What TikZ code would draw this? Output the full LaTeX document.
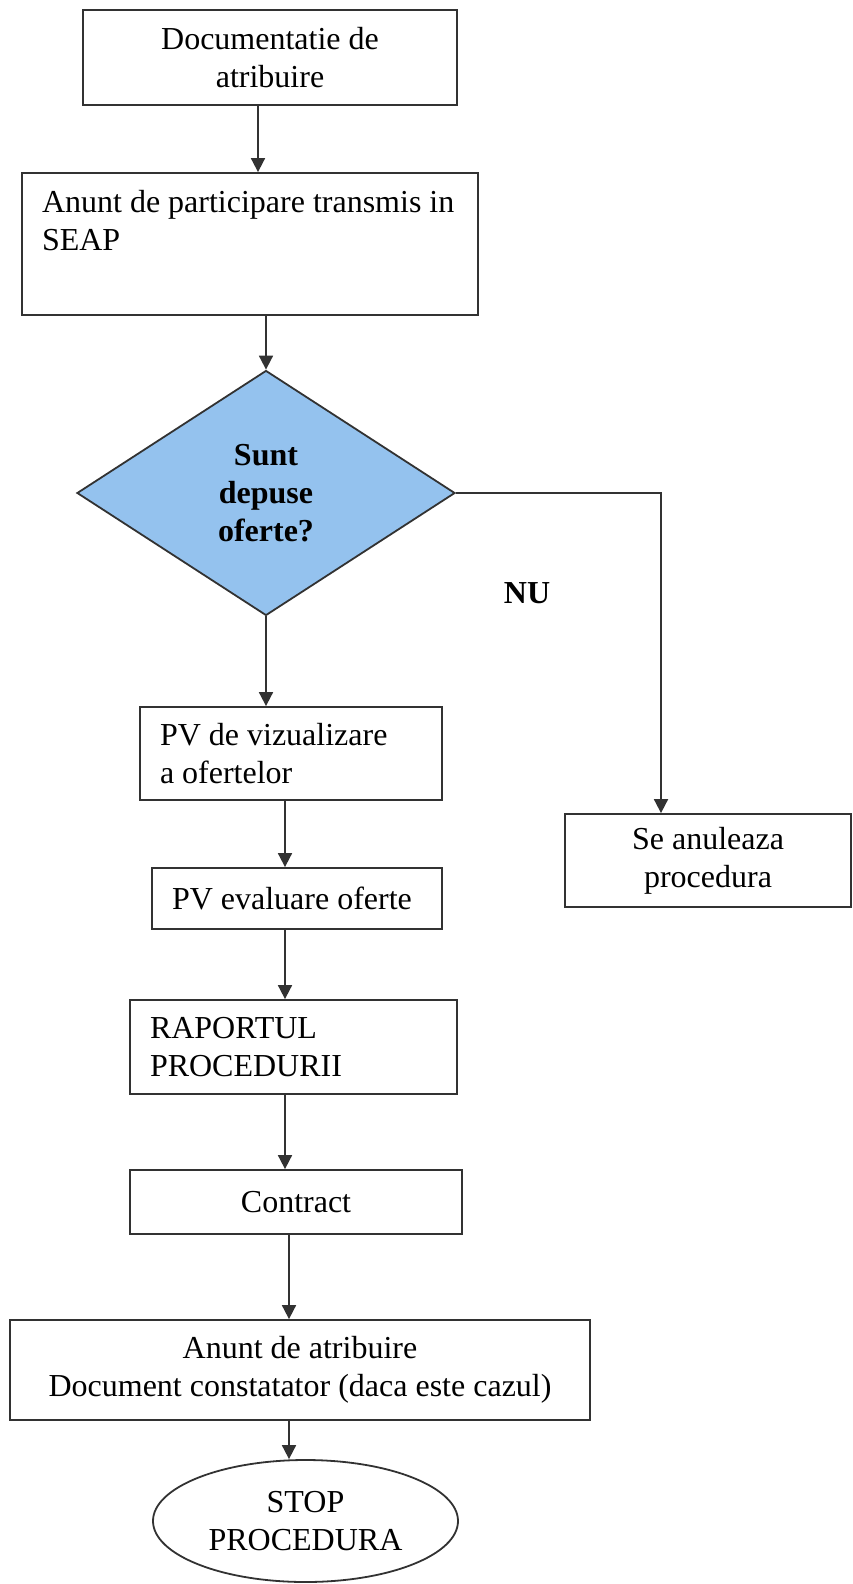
\documentclass[tikz,border=0pt]{standalone}
\usepackage{fontspec}
\setmainfont{Liberation Serif}
\usetikzlibrary{shapes.geometric, arrows.meta}
\definecolor{decizie}{RGB}{148,194,238}
\definecolor{linie}{RGB}{50,50,50}

\begin{document}
\begin{tikzpicture}[x=1pt, y=-1pt,
    every node/.style={font=\fontsize{32}{38}\selectfont},
    cutie/.style={draw=linie, line width=1.8pt, rectangle, inner sep=0pt},
    centrat/.style={cutie, align=center},
    stanga/.style={cutie, align=flush left, inner xsep=20pt},
    sageata/.style={draw=linie, line width=1.8pt, -{Triangle[width=14pt,length=14pt]}}]
  \useasboundingbox (0,0) rectangle (852,1584);
  % === PARTEA DE SUS: documentatie si anunt ===
  \node[centrat, minimum width=374pt, minimum height=95pt] (doc) at (270,57.5)
    {Documentatie de\\atribuire};
  \node[cutie, minimum width=456pt, minimum height=142pt] (anunt) at (250,244)
    {\parbox[c][142pt][t]{416pt}{\vspace{17pt}Anunt de participare transmis in\\SEAP}};
  % === DECIZIA: sunt depuse oferte? ===
  \node[diamond, draw=linie, fill=decizie, line width=1.8pt, inner sep=0pt,
    minimum width=378pt, minimum height=245pt, align=center,
    font=\fontsize{32}{38}\selectfont\bfseries] (dec) at (266,493)
    {Sunt\\depuse\\oferte?};
  \node[font=\fontsize{32}{38}\selectfont\bfseries] (nu) at (527,593) {NU};
  % ramura NU
  \node[centrat, minimum width=286pt, minimum height=93pt] (anulare) at (708,860.5)
    {Se anuleaza\\procedura};
  % === RAMURA DA: pasii procedurii ===
  \node[stanga, text width=262pt, minimum height=93pt] (pvviz) at (291,753.5)
    {PV de vizualizare\\a ofertelor};
  \node[stanga, text width=250pt, minimum height=61pt] (pveval) at (297,898.5)
    {PV evaluare oferte};
  \node[stanga, text width=287pt, minimum height=94pt] (raport) at (293.5,1047)
    {RAPORTUL\\PROCEDURII};
  \node[centrat, minimum width=332pt, minimum height=64pt] (contract) at (296,1202)
    {Contract};
  \node[centrat, minimum width=580pt, minimum height=100pt] (atrib) at (300,1370)
    {Anunt de atribuire\\Document constatator (daca este cazul)};
  \node[ellipse, draw=linie, line width=1.8pt, inner sep=0pt, align=center,
    minimum width=305pt, minimum height=122pt] (stop) at (305.5,1521)
    {STOP\\PROCEDURA};
  % === SAGETI ===
  \coordinate (xa) at (258,0);
  \coordinate (xnu) at (661,0);
  \coordinate (xb) at (285,0);
  \coordinate (xc) at (289,0);
  \draw[sageata] (doc.south -| xa) -- (anunt.north -| xa);
  \draw[sageata] (anunt.south -| dec.north) -- (dec.north);
  \draw[sageata] (dec.south) -- (pvviz.north -| dec.south);
  \draw[sageata] (dec.east) -| (anulare.north -| xnu);
  \draw[sageata] (pvviz.south -| xb) -- (pveval.north -| xb);
  \draw[sageata] (pveval.south -| xb) -- (raport.north -| xb);
  \draw[sageata] (raport.south -| xb) -- (contract.north -| xb);
  \draw[sageata] (contract.south -| xc) -- (atrib.north -| xc);
  \draw[sageata] (atrib.south -| xc) -- (stop.north -| xc);
\end{tikzpicture}
\end{document}
